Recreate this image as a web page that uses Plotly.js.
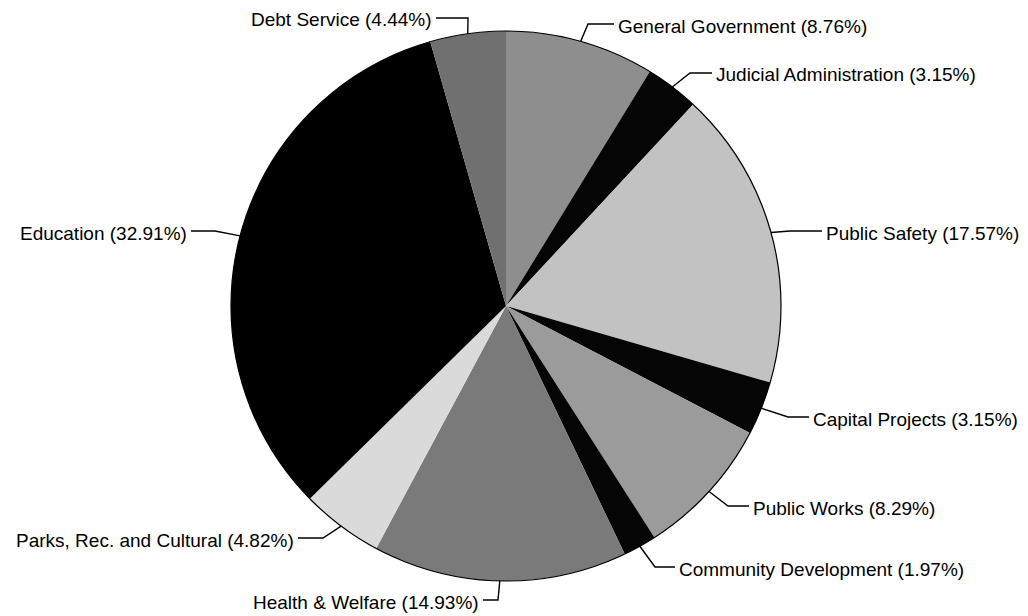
<!DOCTYPE html>
<html>
<head>
<meta charset="utf-8">
<script src="https://cdn.plot.ly/plotly-3.0.1.min.js"></script>
<style>html,body{margin:0;padding:0;background:#fff;}#chart{width:1028px;height:616px;}</style>
</head>
<body>
<div id="chart"></div>
<script>
// ---- data ----
const categories = ["General Government","Judicial Administration","Public Safety","Capital Projects","Public Works","Community Development","Health & Welfare","Parks, Rec. and Cultural","Education","Debt Service"];
const percents = [8.76, 3.15, 17.57, 3.15, 8.29, 1.97, 14.93, 4.82, 32.91, 4.44];

// ---- style / layout ----
const sliceColors = ["#8e8e8e","#050505","#c2c2c2","#050505","#9b9b9b","#050505","#7a7a7a","#dadada","#000000","#707070"];
const W = 1028, H = 616;
const cx = 506, cy = 306, R = 275;
// label placement: elbow point and text anchor (pixels), side
const labelLayout = [
  {ex:588, ey:24, tx:614, side:"left"},
  {ex:690, ey:73, tx:712, side:"left"},
  {ex:790, ey:231, tx:822, side:"left"},
  {ex:788, ey:417, tx:809, side:"left"},
  {ex:728, ey:506, tx:749, side:"left"},
  {ex:655, ey:567, tx:675, side:"left"},
  {ex:498, ey:600, tx:483, side:"right"},
  {ex:323, ey:538, tx:298, side:"right"},
  {ex:215, ey:231, tx:191, side:"right"},
  {ex:468, ey:18, tx:436, side:"right"}
];
const FONT = "Liberation Sans, Arial, Helvetica, sans-serif";
const px = x => x / W;
const py = y => 1 - y / H;

const total = percents.reduce((a,b)=>a+b,0);
let cum = 0;
const shapes = [];
const annotations = [];
percents.forEach((v,i)=>{
  const mid = (cum + v/2) / total * 2 * Math.PI;
  cum += v;
  const ax = cx + R * Math.sin(mid);
  const ay = cy - R * Math.cos(mid);
  const L = labelLayout[i];
  shapes.push({
    type:"path", xref:"paper", yref:"paper",
    path:`M ${px(ax)},${py(ay)} L ${px(L.ex)},${py(L.ey)} L ${px(L.tx)},${py(L.ey)}`,
    line:{color:"#000", width:1.4}
  });
  annotations.push({
    xref:"paper", yref:"paper",
    x: px(L.side==="left" ? L.tx + 2 : L.tx - 2),
    y: py(L.ey + 2),
    xanchor: L.side==="left" ? "left" : "right",
    yanchor:"middle",
    showarrow:false,
    text: `${categories[i]} (${v.toFixed(2)}%)`,
    font:{family:FONT, size:19, color:"#000"}
  });
});
// outer outline of the pie
shapes.push({type:"circle", xref:"paper", yref:"paper",
  x0:px(cx-R), x1:px(cx+R), y0:py(cy+R), y1:py(cy-R),
  line:{color:"#000", width:1.2}});

const trace = {
  type:"pie",
  labels:categories,
  values:percents,
  sort:false,
  direction:"clockwise",
  rotation:0,
  textinfo:"none",
  hoverinfo:"label+percent",
  marker:{colors:sliceColors, line:{width:0}},
  domain:{x:[px(cx-R), px(cx+R)], y:[py(cy+R), py(cy-R)]},
  showlegend:false
};

Plotly.newPlot("chart", [trace], {
  width:W, height:H,
  margin:{l:0,r:0,t:0,b:0},
  paper_bgcolor:"#fff",
  showlegend:false,
  shapes:shapes,
  annotations:annotations
}, {displayModeBar:false, staticPlot:true});
</script>
</body>
</html>
